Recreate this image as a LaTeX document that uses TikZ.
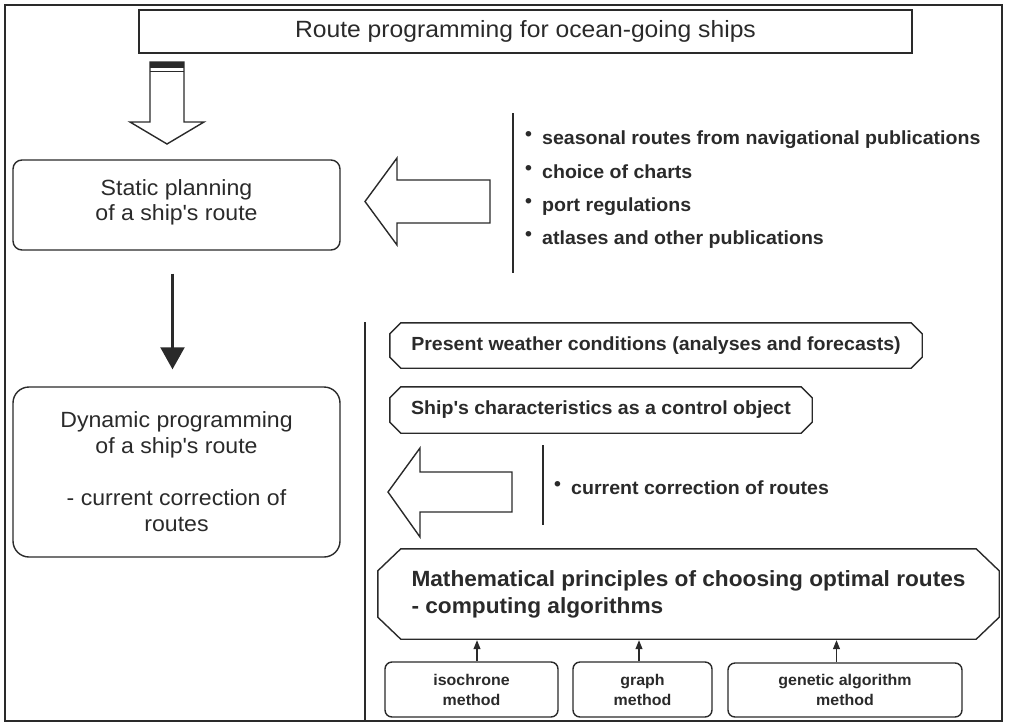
\documentclass[tikz,border=0pt]{standalone}
\usepackage{fontspec}
\setmainfont{Liberation Sans}[FakeStretch=1.05]
\newfontfamily\bfam{Liberation Sans}[FakeStretch=1.03]
\usetikzlibrary{arrows.meta,calc}
\definecolor{ink}{HTML}{2A2A2A}
\newcommand\bul{\makebox[15pt][l]{\hspace*{-2pt}\raisebox{4pt}{\fontsize{19}{19}\selectfont •}}}
\newcommand\ap{\textquotesingle}
\newcommand\bfs{\bfam\bfseries\fontsize{19}{23}\selectfont}
\newcommand\chambox[3]{\draw[boxline] ($(#1.north west)+(#2,0)$) -- ($(#1.north east)+(-#2,0)$) -- ($(#1.north east)+(0,#3)$) -- ($(#1.south east)+(0,-#3)$) -- ($(#1.south east)+(-#2,0)$) -- ($(#1.south west)+(#2,0)$) -- ($(#1.south west)+(0,-#3)$) -- ($(#1.north west)+(0,#3)$) -- cycle;}
\begin{document}
\begin{tikzpicture}[x=1pt,y=-1pt,
  every node/.style={text=ink, inner sep=0pt},
  boxline/.style={draw=ink, line width=1.4},
  roundbox/.style={boxline, align=center},
  hollow/.style={draw=ink, line width=1.4, fill=white, line join=miter},
  sepline/.style={draw=ink, line width=1.2},
  smallarrow/.style={draw=ink, line width=1.1, -{Triangle[width=7pt,length=9pt]}, shorten >=1pt},
  item/.style={anchor=base west, font=\bfs},
  method/.style={roundbox, rounded corners=7, font={\bfam\bfseries\fontsize{15.5}{20}\selectfont}}]
\useasboundingbox (0,0) rectangle (1010,724);
% outer frame
\draw[draw=ink, line width=1.6] (5,5) rectangle (1002,721);
% title
\node[boxline, line width=1.6, minimum width=773, minimum height=43, font={\fontsize{23.5}{28}\selectfont}] (title) at (525.5,31.5)
  {Route programming for ocean-going ships};
% hollow down arrow
\draw[hollow] (150,62) -- (184,62) -- (184,122) -- (204,122) -- (167,144) -- (130,122) -- (150,122) -- cycle;
\fill[ink] (150,62) rectangle (184,68);
\draw[ink, line width=1.2] (150,71.5) -- (184,71.5);
% left boxes
\node[roundbox, rounded corners=9, minimum width=327, minimum height=90, font={\fontsize{22}{25}\selectfont}] (static) at (176.5,205)
  {Static planning\\ of a ship\ap s route\rule[-9pt]{0pt}{0pt}};
\node[roundbox, rounded corners=16, minimum width=327, minimum height=170, font={\fontsize{22}{26}\selectfont}] (dynamic) at (176.5,472)
  {Dynamic programming\\ of a ship\ap s route\\[26pt] - current correction of\\ routes};
\draw[draw=ink, line width=2.2, -{Triangle[width=24pt,length=22pt]}, shorten <=23pt, shorten >=17pt]
  ($(static.south)+(-4,0)$) -- ($(dynamic.north)+(-4,0)$);
% first hollow left arrow and sources
\draw[hollow] (490,180) -- (397,180) -- (397,158) -- (365,201.5) -- (397,245) -- (397,223) -- (490,223) -- cycle;
\draw[sepline] (513,113) -- (513,273);
\node[item] (s1) at (527,144) {\bul seasonal routes from navigational publications};
\node[item] (s2) at (527,178) {\bul choice of charts};
\node[item] (s3) at (527,211) {\bul port regulations};
\node[item] (s4) at (527,244) {\bul atlases and other publications};
% middle separator
\draw[sepline] (365,322) -- (365,721);
% weather and ship boxes
\node[minimum width=532, minimum height=45, font=\bfs] (weather) at (656,345.5)
  {Present weather conditions (analyses and forecasts)};
\chambox{weather}{11}{11}
\node[minimum width=422, minimum height=46, font=\bfs] (ship) at (601,410)
  {Ship\ap s characteristics as a control object};
\chambox{ship}{11}{11}
% second hollow left arrow
\draw[hollow] (512,472) -- (420,472) -- (420,448) -- (388,492) -- (420,537) -- (420,512) -- (512,512) -- cycle;
\draw[sepline] (543,445) -- (543,525);
\node[item] (c1) at (556,494) {\bul current correction of routes};
% math box
\node[minimum width=621, minimum height=90, align=left, font={\bfam\bfseries\fontsize{22}{27}\selectfont}] (math) at (688.5,594)
  {Mathematical principles of choosing optimal routes\\ - computing algorithms};
\chambox{math}{23}{22}
% method boxes
\node[method, minimum width=173, minimum height=55] (iso) at (471.5,689.5) {isochrone\\ method};
\node[method, minimum width=139, minimum height=55] (graph) at (642.5,689.5) {graph\\ method};
\node[method, minimum width=234, minimum height=54] (gen) at (845,690) {genetic algorithm\\ method};
\coordinate (a1) at ($(iso.north)+(5.5,0)$);
\coordinate (a2) at ($(graph.north)+(-3.5,0)$);
\coordinate (a3) at ($(gen.north)+(-8.5,0)$);
\draw[smallarrow] (a1) -- (a1 |- math.south);
\draw[smallarrow] (a2) -- (a2 |- math.south);
\draw[smallarrow] (a3) -- (a3 |- math.south);
\end{tikzpicture}
\end{document}
